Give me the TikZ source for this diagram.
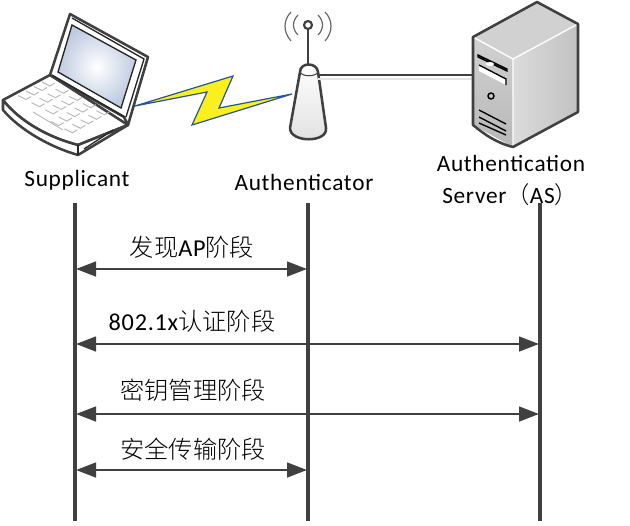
\documentclass[tikz,border=0pt]{standalone}
\usepackage{fontspec}
\setmainfont[LetterSpace=3]{Carlito}
\newfontfamily\cjk{Noto Sans CJK SC Light}
\usetikzlibrary{arrows.meta}
\definecolor{ink}{RGB}{64,64,64}
\definecolor{screenblue}{RGB}{190,203,225}
\tikzset{
  lifeline/.style={draw=ink,line width=2.6pt},
  msg/.style={draw=ink,line width=1.9pt,{Triangle[length=15pt,width=11pt]}-{Triangle[length=15pt,width=11pt]}},
  actor/.style={font=\fontsize{17.5pt}{20pt}\selectfont,inner sep=0pt,text=black},
  phase/.style={font=\fontsize{18.2pt}{21pt}\selectfont,inner sep=0pt,text=black},
  icon/.style={draw=ink,line width=1.9pt,line join=round},
  thin icon/.style={draw=black!85,line width=1pt},
  wave/.style={draw=ink!80,line width=.9pt},
  keycap/.style={draw=black!28,line width=.7pt},
}
\begin{document}
\begin{tikzpicture}[x=.75pt,y=-.75pt]
\useasboundingbox (0,0) rectangle (630,525);
% laptop
\filldraw[icon,fill=white] (3,100) -- (50,75) -- (128,125) -- (78,145) .. controls (50,138) and (20,122) .. cycle;
\filldraw[icon,fill=white] (3,100) -- (3,110) .. controls (20,130) and (50,147) .. (78,155) -- (128,125) -- (78,145) .. controls (50,138) and (20,122) .. (3,100) -- cycle;
\draw[thin icon] (78,145) -- (78,155);
\draw[thin icon] (84,149) -- (113,130);
\filldraw[icon,fill=white] (50,75) -- (70,14) -- (148,57) -- (128,125) -- (124,117) -- cycle;
\draw[thin icon] (72,18) -- (144,59) -- (126,117);
\shade[inner color=white,outer color=screenblue] (72,25) -- (136,60) -- (121,108) -- (58,72) -- cycle;
\draw[thin icon] (72,25) -- (136,60) -- (121,108) -- (58,72) -- cycle;
\draw[thin icon] (52,75) -- (125,117);
\foreach \i in {0,...,4}{\foreach \j in {0,...,3}{
  \draw[keycap] ({42+\i*13.6-\j*8},{82+\i*7.2+\j*4.5}) -- ++(8,4) -- ++(5,-3);
}}
\foreach \i in {3,4}{\draw[keycap] ({42+\i*13.6-32},{82+\i*7.2+18}) -- ++(8,4) -- ++(5,-3);}
\draw[keycap] (33,112) -- (63,130);
% lightning
\filldraw[draw={rgb,255:red,40;green,85;blue,145},line width=.9pt,fill={rgb,255:red,250;green,240;blue,30},line join=miter] (135,106) -- (207,92) -- (192,125) -- (292,94) -- (219,108) -- (233,76) -- cycle;
% access point
\draw[wave] (291,12) .. controls (283,20) and (283,32) .. (291,41);
\draw[wave] (298,15) .. controls (292,21) and (292,29) .. (298,35);
\draw[wave] (325,12) .. controls (333,20) and (333,32) .. (325,41);
\draw[wave] (318,15) .. controls (324,21) and (324,29) .. (318,35);
\draw[icon] (308,29) -- (308,66);
\filldraw[icon,fill=white,line width=1.6pt] (308,25) circle (4);
\shade[top color=white,bottom color=black!12] (300,72) .. controls (300,62) and (317,62) .. (318,72) -- (326,128) .. controls (328,143) and (290,143) .. (290,128) -- cycle;
\draw[icon] (300,72) .. controls (300,62) and (317,62) .. (318,72) -- (326,128) .. controls (328,143) and (290,143) .. (290,128) -- cycle;
\draw[ink,line width=.8pt] (300,72) .. controls (302,77) and (316,77) .. (318,72);
% AP to server link
\coordinate (apport) at (318,75);
\coordinate (asport) at (473,75);
\draw[black!10,line width=1.5pt] (318,79) -- (473,79);
\draw[ink,line width=1.5pt] (apport) -- (asport);
% server
\shade[top color=black!18,bottom color=black!28] (473,37) -- (513,59) -- (513,147) -- (473,125) -- cycle;
\fill[black!18] (473,37) -- (537,2) -- (578,24) -- (513,59) -- cycle;
\shade[left color=black!14,right color=black!24] (513,59) -- (578,24) -- (578,112) -- (513,147) -- cycle;
\draw[white,line width=1pt] (473,37) -- (513,59) -- (578,24) (513,59) -- (513,147);
\draw[icon] (473,37) -- (537,2) -- (578,24) -- (578,112) -- (513,147) .. controls (497,143) and (485,135) .. (473,125) -- cycle;
\filldraw[draw=black,line width=1pt,fill=black!45] (478,55) -- (507,69) -- (507,71) -- (478,57) -- cycle;
\fill[white] (490,64) ellipse (4 and 2);
\fill[white] (479,65) -- (506,79) -- (506,85) -- (479,71) -- cycle;
\draw[black,line width=1pt] (479,65) -- (506,79) -- (506,85);
\draw[black,line width=1.1pt] (491,96) circle (3);
\draw[black,line width=1pt] (479,110) -- (506,124) (479,117) -- (506,131) (479,123) -- (506,135);
% actors
\node[actor] (sup) at (77,180) {Supplicant};
\node[actor] (auth) at (304,182) {Authenticator};
\node[actor] (as1) at (511,163) {Authentication};
\node[actor,anchor=west] (as2) at (442,195) {Server{\cjk （}AS{\cjk ）}};
% lifelines
\coordinate (s0) at (75,203); \coordinate (s1) at (75,521);
\coordinate (a0) at (308,203); \coordinate (a1) at (308,521);
\coordinate (r0) at (540,203); \coordinate (r1) at (540,521);
\draw[lifeline] (s0) -- (s1);
\draw[lifeline] (a0) -- (a1);
\draw[lifeline] (r0) -- (r1);
% messages
\coordinate (sm1) at (76,269); \coordinate (am1) at (307,269);
\coordinate (sm2) at (76,344); \coordinate (rm2) at (539,344);
\coordinate (sm3) at (76,414); \coordinate (rm3) at (539,414);
\coordinate (sm4) at (76,470); \coordinate (am4) at (307,470);
\draw[msg] (sm1) -- (am1);
\draw[msg] (sm2) -- (rm2);
\draw[msg] (sm3) -- (rm3);
\draw[msg] (sm4) -- (am4);
\node[phase] (p1) at (192,247) {{\cjk 发现}AP{\cjk 阶段}};
\node[phase] (p2) at (192,321) {802.1x{\cjk 认证阶段}};
\node[phase] (p3) at (193,390) {\cjk 密钥管理阶段};
\node[phase] (p4) at (193,449) {\cjk 安全传输阶段};
\end{tikzpicture}
\end{document}
